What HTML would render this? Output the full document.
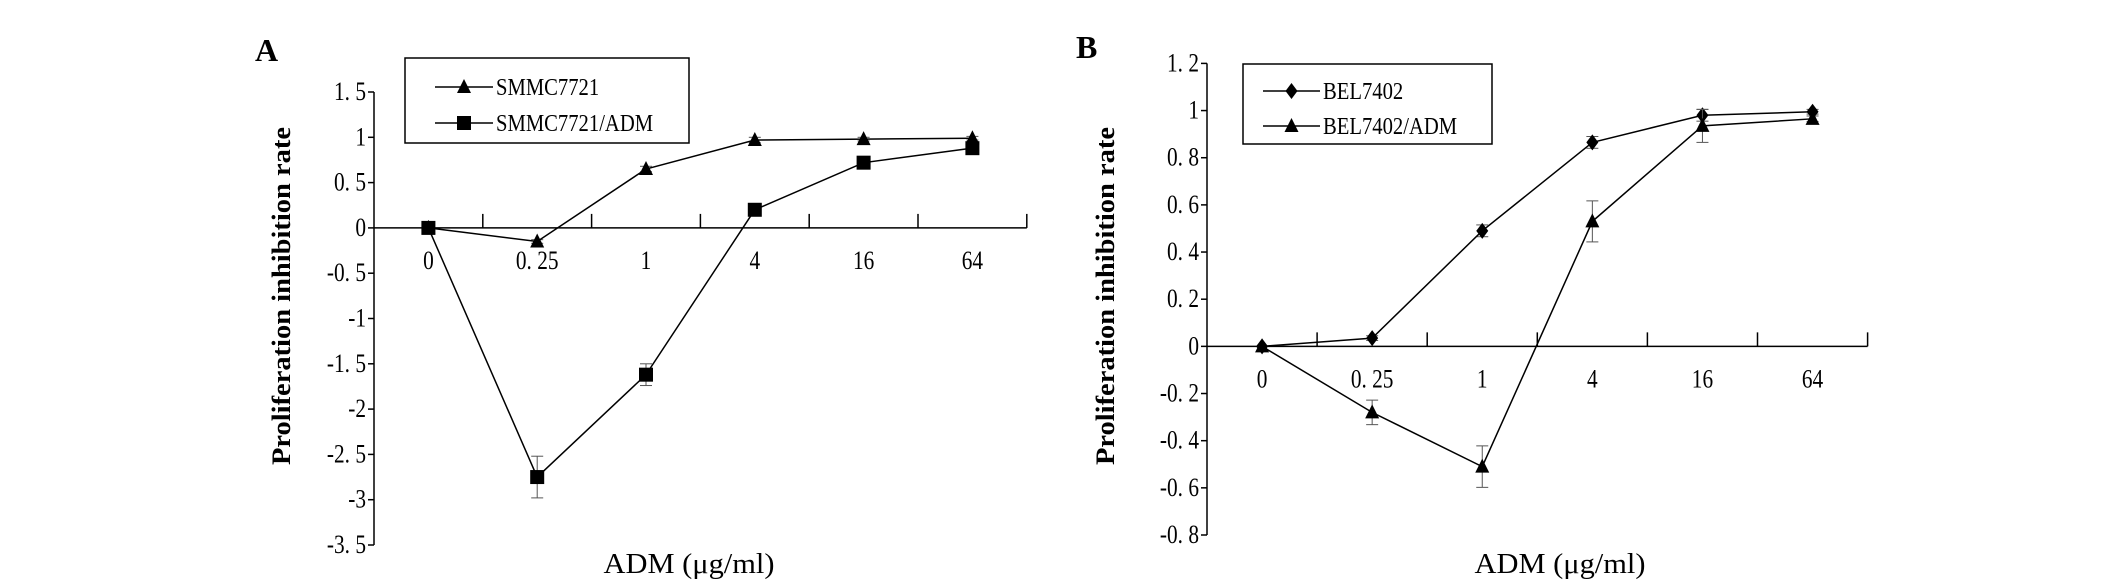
<!DOCTYPE html>
<html><head><meta charset="utf-8"><style>
html,body{margin:0;padding:0;background:#fff;}
svg{display:block;}
text{font-family:"Liberation Serif","Noto Serif CJK SC",serif;fill:#000;}
</style></head><body>
<svg id="chart" width="2126" height="585" viewBox="0 0 2126 585" xmlns="http://www.w3.org/2000/svg"></svg>
<script>
const categories = ["0","0. 25","1","4","16","64"];
const aSeries1 = [0,-0.15,0.65,0.97,0.98,0.99];
const aErr1 = [0,0.02,0.03,0.03,0.02,0.02];
const aSeries2 = [0,-2.75,-1.62,0.2,0.72,0.88];
const aErr2 = [0,0.23,0.12,0.04,0.04,0.04];
const aTicks = [1.5,1,0.5,0,-0.5,-1,-1.5,-2,-2.5,-3,-3.5];
const aTickLabels = ["1. 5","1","0. 5","0","-0. 5","-1","-1. 5","-2","-2. 5","-3","-3. 5"];
const bSeries1 = [0,0.035,0.49,0.865,0.98,0.995];
const bErr1 = [0,0.01,0.025,0.025,0.025,0.01];
const bSeries2 = [0,-0.28,-0.51,0.53,0.935,0.965];
const bErr2 = [0,0.052,0.088,0.087,0.07,0.012];
const bTicks = [1.2,1,0.8,0.6,0.4,0.2,0,-0.2,-0.4,-0.6,-0.8];
const bTickLabels = ["1. 2","1","0. 8","0. 6","0. 4","0. 2","0","-0. 2","-0. 4","-0. 6","-0. 8"];

const svg=document.getElementById('chart');
const NS='http://www.w3.org/2000/svg';
function mk(tag,attrs,parent){const e=document.createElementNS(NS,tag);for(const k in attrs)e.setAttribute(k,attrs[k]);(parent||svg).appendChild(e);return e;}
function ctext(parent,x,y,size,anchor,str,sx){
  const t=mk('text',{x:0,y:0,'font-size':size,'text-anchor':anchor,transform:`translate(${x},${y}) scale(${sx||0.82},1)`},parent);
  t.textContent=str;return t;
}
function marker(g,type,x,y){
  if(type==='tri') return mk('polygon',{points:`${x},${y-8} ${x-7},${y+6} ${x+7},${y+6}`,fill:'#000'},g);
  if(type==='sq') return mk('rect',{x:x-7,y:y-7,width:14,height:14,fill:'#000'},g);
  return mk('polygon',{points:`${x},${y-8} ${x-6},${y} ${x},${y+8} ${x+6},${y}`,fill:'#000'},g);
}
function panel(p){
  const g=mk('g',{});
  
  
  const ymax=p.ticks[0], ymin=p.ticks[p.ticks.length-1];
  const Y=v=>p.yTop+(ymax-v)/(ymax-ymin)*(p.yBot-p.yTop);
  const X=i=>p.x0+p.bw*(i+0.5);
  const y0=Y(0);
  const ya=mk('line',{x1:p.x0,y1:p.yTop,x2:p.x0,y2:p.yBot,stroke:'#000','stroke-width':1.5},g);
  
  p.ticks.forEach((t,i)=>{
    mk('line',{x1:p.x0-6,y1:Y(t),x2:p.x0,y2:Y(t),stroke:'#000','stroke-width':1.5},g);
    const tl=ctext(g,p.x0-8,Y(t)+8,26,'end',p.tickLabels[i]);
    
  });
  const xa=mk('line',{x1:p.x0,y1:y0,x2:p.x0+p.bw*6,y2:y0,stroke:'#000','stroke-width':1.5},g);
  
  for(let k=1;k<=6;k++) mk('line',{x1:p.x0+p.bw*k,y1:y0-14,x2:p.x0+p.bw*k,y2:y0,stroke:'#000','stroke-width':1.5},g);
  categories.forEach((c,i)=>{
    const tl=ctext(g,X(i),y0+41,26,'middle',c);
    
  });
  p.series.forEach(s=>{
    const sg=mk('g',{},g);
    
    s.err.forEach((e,i)=>{ if(e>0){
      const x=X(i);
      mk('line',{x1:x,y1:Y(s.v[i]+e),x2:x,y2:Y(s.v[i]-e),stroke:'#555','stroke-width':1},sg);
      mk('line',{x1:x-6,y1:Y(s.v[i]+e),x2:x+6,y2:Y(s.v[i]+e),stroke:'#555','stroke-width':1},sg);
      mk('line',{x1:x-6,y1:Y(s.v[i]-e),x2:x+6,y2:Y(s.v[i]-e),stroke:'#555','stroke-width':1},sg);
    }});
    mk('polyline',{points:s.v.map((v,i)=>X(i)+','+Y(v)).join(' '),fill:'none',stroke:'#000','stroke-width':1.5},sg);
    s.v.forEach((v,i)=>{const m=marker(sg,s.m,X(i),Y(v));});
  });
  const lg=mk('g',{},g);
  
  mk('rect',{x:p.leg.x,y:p.leg.y,width:p.leg.w,height:p.leg.h,fill:'#fff',stroke:'#000','stroke-width':1.5},lg);
  p.series.forEach((s,i)=>{
    const ly=p.leg.rows[i];
    const e=mk('g',{},lg);
    
    mk('line',{x1:p.leg.lx1,y1:ly,x2:p.leg.lx2,y2:ly,stroke:'#000','stroke-width':1.5},e);
    marker(e,s.m,(p.leg.lx1+p.leg.lx2)/2,ly);
    ctext(e,p.leg.lx2+3,ly+8,24,'start',s.label,0.86);
  });
  const L=mk('text',{x:p.letter[0],y:p.letter[1],'font-size':32,'font-weight':'bold'},g);
  L.textContent=p.letterText;
  const yt=mk('text',{x:0,y:0,'font-size':26,'font-weight':'bold','text-anchor':'middle',textLength:338,lengthAdjust:'spacingAndGlyphs',transform:`translate(${p.ytx},296) rotate(-90)`},g);
  yt.textContent='Proliferation inhibition rate';
  const xt=mk('text',{x:p.xtx,y:573,'font-size':28,'text-anchor':'middle',textLength:171,lengthAdjust:'spacingAndGlyphs'},g);
  xt.textContent='ADM (μg/ml)';
}
panel({name:'panel-a',letterText:'A',letter:[255,61],x0:374,bw:108.8,yTop:92,yBot:545,ticks:aTicks,tickLabels:aTickLabels,ytx:290,xtx:689,
  series:[{id:'series-smmc7721',label:'SMMC7721',v:aSeries1,err:aErr1,m:'tri'},{id:'series-smmc7721-adm',label:'SMMC7721/ADM',v:aSeries2,err:aErr2,m:'sq'}],
  leg:{x:405,y:58,w:284,h:85,rows:[87,123],lx1:435,lx2:493}});
panel({name:'panel-b',letterText:'B',letter:[1076,58],x0:1207,bw:110.1,yTop:63.4,yBot:535,ticks:bTicks,tickLabels:bTickLabels,ytx:1114,xtx:1560,
  series:[{id:'series-bel7402',label:'BEL7402',v:bSeries1,err:bErr1,m:'dia'},{id:'series-bel7402-adm',label:'BEL7402/ADM',v:bSeries2,err:bErr2,m:'tri'}],
  leg:{x:1243,y:64,w:249,h:80,rows:[91,126],lx1:1263,lx2:1320}});
</script>
</body></html>
